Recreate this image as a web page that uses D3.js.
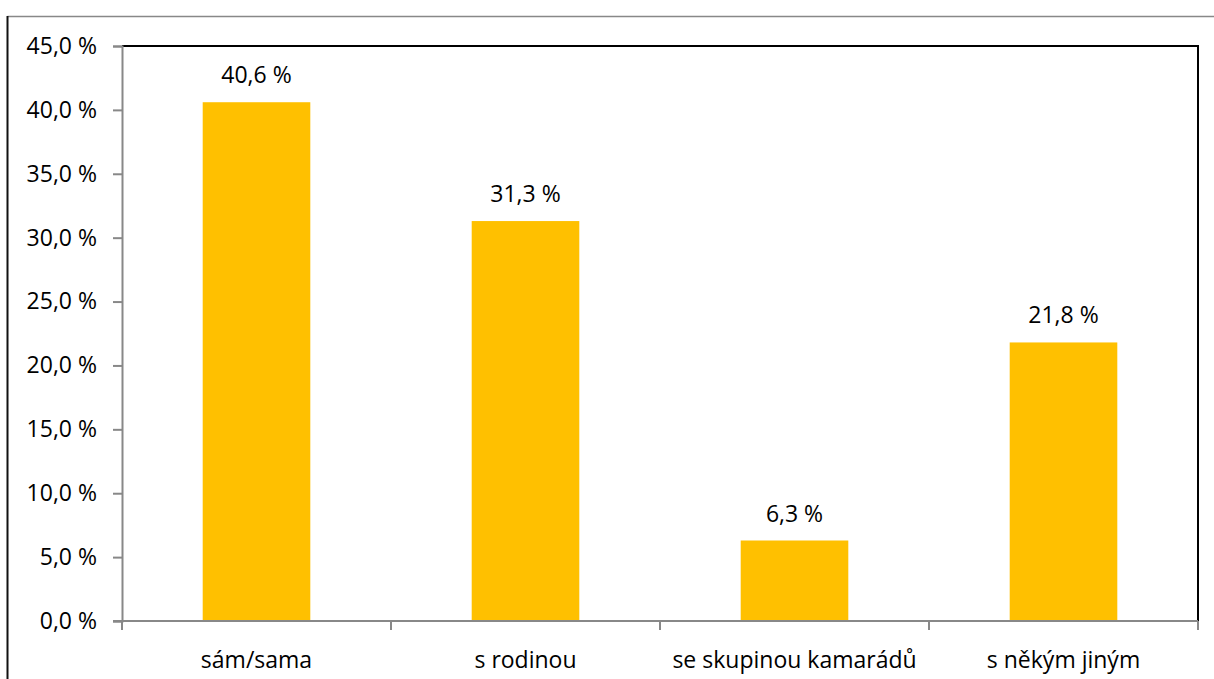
<!DOCTYPE html>
<html><head><meta charset="utf-8">
<script src="https://cdn.jsdelivr.net/npm/d3@7"></script>
<style>body{margin:0;background:#fff}svg{display:block}text{font-family:"Open Sans","Liberation Sans",sans-serif;fill:#000}</style>
</head><body><svg id="c" width="1214" height="679"></svg>
<script>
const categories = ["sám/sama", "s rodinou", "se skupinou kamarádů", "s někým jiným"];
const values = [40.6, 31.3, 6.3, 21.8];
const yTicks = [0, 5, 10, 15, 20, 25, 30, 35, 40, 45];

const svg = d3.select("#c");
const m = {l: 122, t: 46, r: 1198, b: 621};
const FS = 23;
const FF = '"Open Sans","Liberation Sans",sans-serif';
const fmt = v => d3.format(".1f")(v).replace(".", ",") + " %";

// outer frame
svg.append("line").attr("x1", 7.5).attr("x2", 1214).attr("y1", 16.5).attr("y2", 16.5).attr("stroke", "#888").attr("stroke-width", 1.5);
svg.append("line").attr("x1", 7.5).attr("x2", 7.5).attr("y1", 16).attr("y2", 679).attr("stroke", "#111").attr("stroke-width", 2);

const x = d3.scaleBand().domain(categories).range([m.l, m.r]).paddingInner(0.6).paddingOuter(0.3);
const xb = d3.scaleBand().domain(categories).range([m.l, m.r]);
const y = d3.scaleLinear().domain([0, 45]).range([m.b, m.t]);

// plot border (top & right black)
svg.append("path").attr("d", `M${m.l},${m.t}H${m.r}V${m.b}`).attr("fill", "none").attr("stroke", "#000").attr("stroke-width", 2);

// bars
svg.selectAll("rect.bar").data(values).join("rect")
  .attr("x", (d, i) => x(categories[i])).attr("width", x.bandwidth())
  .attr("y", d => y(d)).attr("height", d => y(0) - y(d)).attr("fill", "#FFC000");

// value labels
svg.selectAll("text.val").data(values).join("text")
  .attr("x", (d, i) => x(categories[i]) + x.bandwidth() / 2)
  .attr("y", d => y(d) - 19).attr("text-anchor", "middle").attr("font-size", FS)
  .text(d => fmt(d));

// y axis
const yAxis = svg.append("g").attr("transform", `translate(${m.l},0)`)
  .call(d3.axisLeft(y).tickValues(yTicks).tickSize(9).tickPadding(16).tickFormat(fmt));
yAxis.select(".domain").attr("stroke", "#888").attr("stroke-width", 2);
yAxis.selectAll(".tick line").attr("stroke", "#888").attr("stroke-width", 2);
yAxis.selectAll(".tick text").attr("font-size", FS).attr("font-family", FF).attr("fill", "#000");

// x axis
const ticksX = categories.map(c => xb(c)).concat([m.r]);
const xAxisG = svg.append("g");
xAxisG.append("line").attr("x1", m.l - 9).attr("x2", m.r).attr("y1", m.b).attr("y2", m.b).attr("stroke", "#888").attr("stroke-width", 2);
xAxisG.selectAll("line.t").data(ticksX).join("line").attr("class", "t")
  .attr("x1", d => d).attr("x2", d => d).attr("y1", m.b).attr("y2", m.b + 9).attr("stroke", "#888").attr("stroke-width", 2);
const xa = svg.append("g").attr("transform", `translate(0,${m.b})`)
  .call(d3.axisBottom(xb).tickSize(0).tickPadding(0));
xa.select(".domain").remove();
xa.selectAll(".tick text").attr("y", 47).attr("dy", null).attr("font-size", FS).attr("font-family", FF).attr("fill", "#000");
</script></body></html>
